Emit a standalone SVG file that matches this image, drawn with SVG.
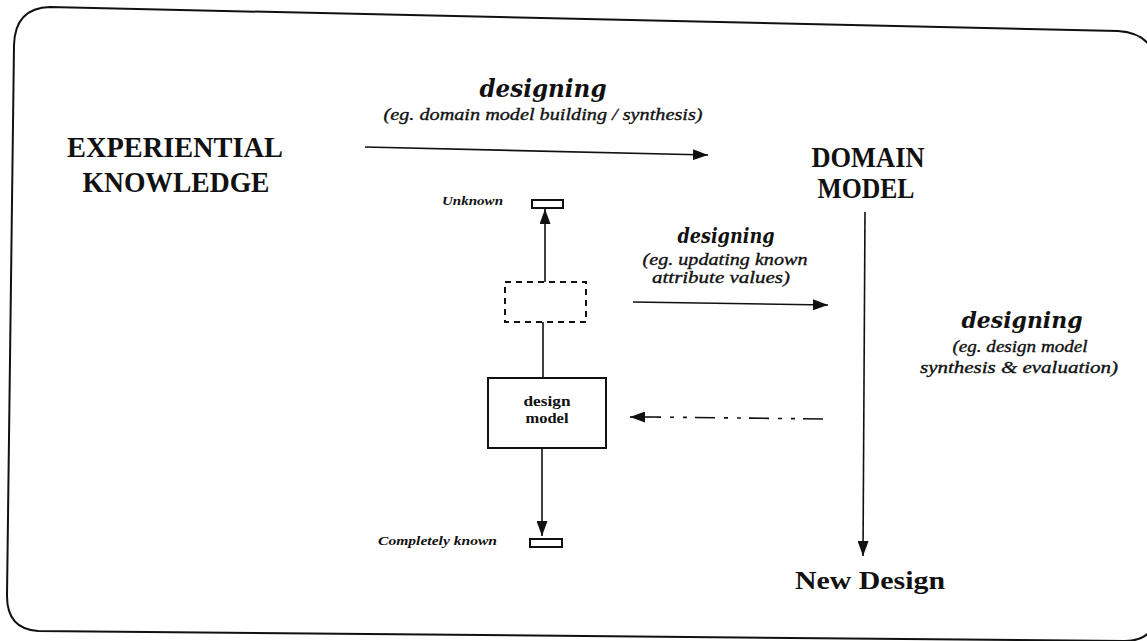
<svg xmlns="http://www.w3.org/2000/svg" width="1147" height="641" viewBox="0 0 1147 641">
  <style>
    .caps { font-family: "Liberation Serif", "Times New Roman", serif; font-weight: bold; fill: #111; }
    .title { font-family: "DejaVu Serif", "Liberation Serif", serif; font-weight: bold; font-style: italic; fill: #111; }
    .note { font-family: "Liberation Serif", "Times New Roman", serif; font-style: italic; fill: #111; stroke: #111; stroke-width: 0.35; }
    .small { font-family: "Liberation Serif", "Times New Roman", serif; font-style: italic; font-weight: bold; fill: #111; }
    .boxlabel { font-family: "Liberation Serif", "Times New Roman", serif; font-weight: bold; fill: #111; }
    .line { stroke: #111; stroke-width: 1.6; fill: none; }
    .box { stroke: #111; stroke-width: 2; fill: #fff; }
  </style>
  <defs>
    <marker id="head" markerUnits="userSpaceOnUse" markerWidth="15" markerHeight="11" refX="15" refY="5.5" orient="auto">
      <path d="M0,0 L15,5.5 L0,11 z" fill="#111"/>
    </marker>
  </defs>

  <rect width="1147" height="641" fill="#fff"/>

  <!-- outer frame -->
  <path d="M14,45 Q15,8 50,7 L1118,31 Q1150,33 1156,60 L1156,620 Q1150,641 1125,641 L38,631 Q7,629 7,596 Z" fill="none" stroke="#111" stroke-width="2"/>

  <g id="experiential-knowledge">
    <text class="caps" x="175" y="157" font-size="30" text-anchor="middle" textLength="216" lengthAdjust="spacingAndGlyphs">EXPERIENTIAL</text>
    <text class="caps" x="176" y="192" font-size="30" text-anchor="middle" textLength="187" lengthAdjust="spacingAndGlyphs">KNOWLEDGE</text>
  </g>

  <g id="domain-model">
    <text class="caps" x="868" y="167" font-size="30" text-anchor="middle" textLength="113" lengthAdjust="spacingAndGlyphs">DOMAIN</text>
    <text class="caps" x="866" y="198" font-size="30" text-anchor="middle" textLength="97" lengthAdjust="spacingAndGlyphs">MODEL</text>
  </g>

  <g id="new-design">
    <text class="caps" x="870" y="589" font-size="25" text-anchor="middle" textLength="150" lengthAdjust="spacingAndGlyphs">New Design</text>
  </g>

  <g id="label-top">
    <text class="title" x="543" y="97" font-size="24" text-anchor="middle" textLength="127" lengthAdjust="spacingAndGlyphs">designing</text>
    <text class="note" x="543" y="120" font-size="17" text-anchor="middle" textLength="319" lengthAdjust="spacingAndGlyphs">(eg. domain model building / synthesis)</text>
  </g>

  <g id="label-middle">
    <text class="title" x="726" y="243" font-size="20" text-anchor="middle" textLength="97" lengthAdjust="spacingAndGlyphs">designing</text>
    <text class="note" x="725" y="265" font-size="17" text-anchor="middle" textLength="165" lengthAdjust="spacingAndGlyphs">(eg. updating known</text>
    <text class="note" x="721" y="283" font-size="17" text-anchor="middle" textLength="138" lengthAdjust="spacingAndGlyphs">attribute values)</text>
  </g>

  <g id="label-right">
    <text class="title" x="1022" y="328" font-size="23" text-anchor="middle" textLength="121" lengthAdjust="spacingAndGlyphs">designing</text>
    <text class="note" x="1020" y="352" font-size="16" text-anchor="middle" textLength="135" lengthAdjust="spacingAndGlyphs">(eg. design model</text>
    <text class="note" x="1019" y="373" font-size="16" text-anchor="middle" textLength="198" lengthAdjust="spacingAndGlyphs">synthesis &amp; evaluation)</text>
  </g>

  <g id="unknown">
    <text class="small" x="442" y="205" font-size="13" textLength="61" lengthAdjust="spacingAndGlyphs">Unknown</text>
    <rect class="box" x="532" y="200" width="31" height="8"/>
  </g>

  <g id="completely-known">
    <text class="small" x="378" y="545" font-size="13" textLength="119" lengthAdjust="spacingAndGlyphs">Completely known</text>
    <rect class="box" x="530" y="539" width="32" height="8"/>
  </g>

  <g id="future-state">
    <rect x="505" y="282" width="81" height="40" fill="none" stroke="#111" stroke-width="2" stroke-dasharray="6 5"/>
  </g>

  <g id="design-model">
    <rect class="box" x="488" y="378" width="118" height="70"/>
    <text class="boxlabel" x="547" y="406" font-size="14" text-anchor="middle" textLength="47" lengthAdjust="spacingAndGlyphs">design</text>
    <text class="boxlabel" x="547" y="423" font-size="14" text-anchor="middle" textLength="43" lengthAdjust="spacingAndGlyphs">model</text>
  </g>

  <g id="connectors">
    <!-- experiential knowledge to domain model -->
    <line class="line" x1="365" y1="147" x2="708" y2="155" marker-end="url(#head)"/>
    <!-- future state up to unknown -->
    <line class="line" x1="545" y1="282" x2="545" y2="209" marker-end="url(#head)"/>
    <!-- future state down to design model -->
    <line class="line" x1="543" y1="322" x2="543" y2="378"/>
    <!-- design model down to completely known -->
    <line class="line" x1="542" y1="448" x2="542" y2="536" marker-end="url(#head)"/>
    <!-- updating attribute values -->
    <line class="line" x1="633" y1="302" x2="828" y2="305" marker-end="url(#head)"/>
    <!-- domain model to new design -->
    <line class="line" x1="865" y1="212" x2="863" y2="556" marker-end="url(#head)"/>
    <!-- feedback from domain model to design model -->
    <line class="line" x1="823" y1="419" x2="653" y2="417" stroke-width="2.4" stroke-dasharray="20 8 4 9 4 9"/>
    <line class="line" x1="653" y1="417" x2="630" y2="417" marker-end="url(#head)"/>
  </g>
</svg>
